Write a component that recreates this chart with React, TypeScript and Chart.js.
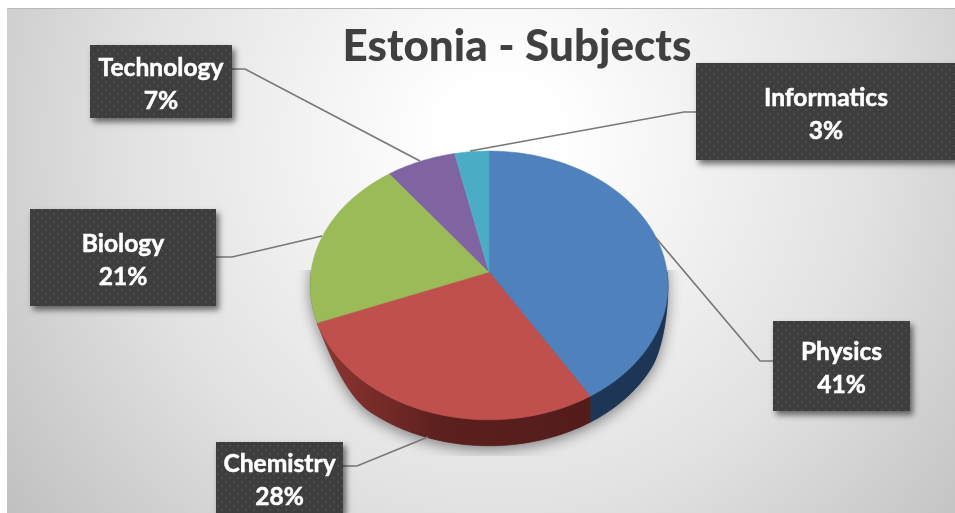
import { useEffect, useRef } from "react";
import { Chart, registerables } from "chart.js";

Chart.register(...registerables);

const titleText = "Estonia - Subjects";
const categories = ["Physics", "Chemistry", "Biology", "Technology", "Informatics"];
const shares = [41.3, 27.7, 20.7, 6.9, 3.4];
const topColors = ["#4f81bd", "#c0504d", "#9bbb59", "#8064a2", "#4bacc6"];
const wallColors = ["#1d3655", "#5a1f1d", "#56692f", "#473859", "#28606f"];
// box: left, top, width, height; leader: elbow and end on the pie
const labelBoxes = [
  [773, 321, 137, 90],
  [216, 442, 127, 71],
  [30, 209, 186, 97],
  [90, 45, 142, 73],
  [696, 63, 260, 97],
];
const leaderLines = [
  [[773, 361], [760, 361], [656, 238]],
  [[343, 466], [357, 466], [428, 437]],
  [[216, 257], [232, 257], [322, 236]],
  [[232, 69], [245, 69], [420, 161]],
  [[696, 112], [684, 112], [470, 151]],
];

const FONT = "Lato, Carlito, 'Open Sans', sans-serif";
const APEX = { x: 489, y: 272 };
const RX = 178;
const RY = 133;
const K = 0.1;
const DEPTH = 26;
const WALL_END = (158 * Math.PI) / 180;

function smooth(t: number) {
  const c = Math.min(1, Math.max(0, t));
  return c * c * (3 - 2 * c);
}

function wallDepth(angle: number) {
  const right = smooth(angle / (Math.PI / 6));
  const left = smooth((WALL_END - angle) / (Math.PI / 6));
  return DEPTH * Math.min(right, left);
}

function project(angle: number, dy = 0) {
  const u = Math.cos(angle);
  const v = Math.sin(angle);
  const w = 1 - K * v;
  return { x: APEX.x + (RX * u) / w, y: APEX.y + (RY * v) / w + dy };
}

function tracePie(ctx: CanvasRenderingContext2D, a0: number, a1: number, wall = false) {
  const n = Math.max(2, Math.ceil(Math.abs(a1 - a0) / 0.02));
  for (let i = 0; i <= n; i++) {
    const a = a0 + ((a1 - a0) * i) / n;
    const p = project(a, wall ? wallDepth(a) : 0);
    ctx.lineTo(p.x, p.y);
  }
}

const dots = (ctx: CanvasRenderingContext2D) => {
  const c = document.createElement("canvas");
  c.width = 8;
  c.height = 8;
  const g = c.getContext("2d")!;
  g.fillStyle = "#3d3d3d";
  g.fillRect(0, 0, 8, 8);
  g.fillStyle = "#4b4b4b";
  g.fillRect(1, 1, 2, 2);
  g.fillRect(5, 5, 2, 2);
  return ctx.createPattern(c, "repeat")!;
};

const backdrop = {
  id: "backdrop",
  beforeDraw(chart: Chart) {
    const ctx = chart.ctx;
    const L = 7, T = 9, W = chart.width - L, H = chart.height - T;
    const g = ctx.createRadialGradient(500, 140, 60, 500, 140, 620);
    g.addColorStop(0, "#ffffff");
    g.addColorStop(0.55, "#e2e2e2");
    g.addColorStop(1, "#c0c0c0");
    ctx.save();
    ctx.fillStyle = g;
    ctx.fillRect(L, T, W, H);
    ctx.fillStyle = "#b8b8b8";
    ctx.fillRect(L, T - 1, W, 1);
    ctx.restore();
  },
};

const tiltedPie = {
  id: "tiltedPie",
  beforeDatasetsDraw(chart: Chart) {
    const ctx = chart.ctx;
    const arcs = chart.getDatasetMeta(0).data as any[];
    ctx.save();

    // soft shadow under the pie, cut off flat below
    ctx.save();
    ctx.beginPath();
    ctx.rect(296, 270, 396, 186);
    ctx.clip();
    ctx.shadowColor = "rgba(0,0,0,0.45)";
    ctx.shadowBlur = 14;
    ctx.shadowOffsetY = 4;
    ctx.fillStyle = "#555555";
    ctx.beginPath();
    tracePie(ctx, 0, Math.PI * 2, true);
    ctx.closePath();
    ctx.fill();
    ctx.restore();

    // side wall
    arcs.forEach((arc, i) => {
      const { startAngle, endAngle } = arc.getProps(["startAngle", "endAngle"], true);
      const a0 = Math.max(startAngle, 0);
      const a1 = Math.min(endAngle, WALL_END);
      if (a1 <= a0) return;
      ctx.fillStyle = wallColors[i];
      if (i === 1) {
        const g = ctx.createLinearGradient(318, 0, 590, 0);
        g.addColorStop(0, "#8e3633");
        g.addColorStop(0.45, "#5c201e");
        g.addColorStop(1, "#521c1b");
        ctx.fillStyle = g;
      }
      ctx.beginPath();
      const s = project(a0);
      ctx.moveTo(s.x, s.y);
      tracePie(ctx, a0, a1);
      tracePie(ctx, a1, a0, true);
      ctx.closePath();
      ctx.fill();
      ctx.strokeStyle = ctx.fillStyle;
      ctx.lineWidth = 0.6;
      ctx.stroke();
    });

    // top face
    arcs.forEach((arc) => {
      const { startAngle, endAngle } = arc.getProps(["startAngle", "endAngle"], true);
      ctx.fillStyle = arc.options.backgroundColor;
      ctx.beginPath();
      ctx.moveTo(APEX.x, APEX.y);
      tracePie(ctx, startAngle, endAngle);
      ctx.closePath();
      ctx.fill();
      ctx.strokeStyle = arc.options.backgroundColor;
      ctx.lineWidth = 0.6;
      ctx.stroke();
    });
    ctx.restore();
    return false;
  },
};

const callouts = {
  id: "callouts",
  afterDraw(chart: Chart) {
    const ctx = chart.ctx;
    const values = chart.data.datasets[0].data as number[];
    const total = values.reduce((a, b) => a + b, 0);
    const pattern = dots(ctx);
    ctx.save();
    leaderLines.forEach((pts) => {
      ctx.strokeStyle = "#777777";
      ctx.lineWidth = 1.7;
      ctx.beginPath();
      pts.forEach(([x, y], i) => (i ? ctx.lineTo(x, y) : ctx.moveTo(x, y)));
      ctx.stroke();
    });
    labelBoxes.forEach(([x, y, w, h], i) => {
      ctx.save();
      ctx.shadowColor = "rgba(0,0,0,0.55)";
      ctx.shadowBlur = 6;
      ctx.shadowOffsetX = 3;
      ctx.shadowOffsetY = 4;
      ctx.fillStyle = "#3d3d3d";
      ctx.fillRect(x, y, w, h);
      ctx.restore();
      ctx.fillStyle = pattern;
      ctx.fillRect(x, y, w, h);
      ctx.fillStyle = "#ffffff";
      ctx.strokeStyle = "#ffffff";
      ctx.lineWidth = 0.5;
      ctx.font = `bold 24.6px ${FONT}`;
      ctx.textAlign = "center";
      ctx.textBaseline = "middle";
      const cx = x + w / 2;
      const cy = y + h / 2;
      const name = String(chart.data.labels![i]);
      const pct = `${Math.round((values[i] / total) * 100)}%`;
      ctx.fillText(name, cx, cy - 13.5);
      ctx.strokeText(name, cx, cy - 13.5);
      ctx.fillText(pct, cx, cy + 19.5);
      ctx.strokeText(pct, cx, cy + 19.5);
    });
    ctx.restore();
  },
};

export default function App() {
  const ref = useRef<HTMLCanvasElement>(null);
  useEffect(() => {
    document.body.style.margin = "0";
    const chart = new Chart(ref.current!, {
      type: "pie",
      data: {
        labels: categories,
        datasets: [{ data: shares, backgroundColor: topColors, borderWidth: 0 }],
      },
      options: {
        animation: false,
        responsive: false,
        layout: { padding: { top: 12, left: 79 } },
        plugins: {
          legend: { display: false },
          tooltip: { enabled: false },
          title: {
            display: true,
            text: titleText,
            color: "#404040",
            font: { family: FONT, size: 44, weight: "900" },
            padding: { top: 8, bottom: 0 },
          },
        },
      },
      plugins: [backdrop, tiltedPie, callouts],
    } as any);
    return () => chart.destroy();
  }, []);
  return <canvas ref={ref} width={955} height={513} style={{ display: "block" }} />;
}
